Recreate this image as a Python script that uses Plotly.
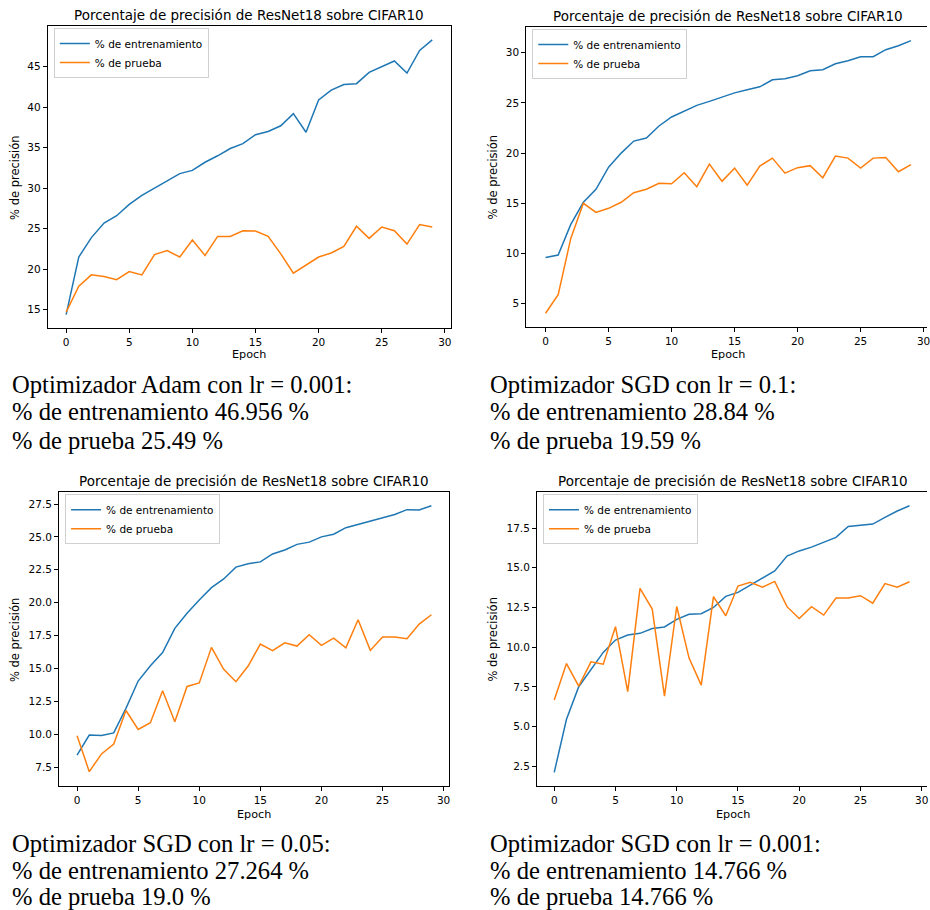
import plotly.graph_objects as go

# ---------------- data ----------------
epochs = list(range(30))

adam_train = [14.4, 21.5, 23.9, 25.7, 26.6, 28.0, 29.1, 30.0, 30.8, 31.8,
              32.2, 33.2, 34.0, 34.9, 35.5, 36.6, 37.0, 37.7, 39.2, 36.9,
              40.9, 42.1, 42.8, 42.9, 44.3, 45.0, 45.7, 44.2, 47.0, 48.3]
adam_test = [14.7, 17.9, 19.3, 19.1, 18.7, 19.7, 19.3, 21.8, 22.3, 21.5,
             23.6, 21.7, 24.05, 24.05, 24.75, 24.7, 24.05, 21.9, 19.5, 20.5,
             21.5, 22.0, 22.8, 25.3, 23.8, 25.2, 24.75, 23.1, 25.5, 25.2]

sgd01_train = [9.6, 9.85, 12.9, 15.1, 16.4, 18.6, 20.0, 21.2, 21.5, 22.7,
               23.6, 24.2, 24.75, 25.15, 25.55, 26.0, 26.3, 26.6, 27.3, 27.4,
               27.7, 28.2, 28.3, 28.9, 29.2, 29.6, 29.6, 30.3, 30.7, 31.2]
sgd01_test = [4.05, 5.9, 11.5, 15.0, 14.1, 14.5, 15.1, 16.05, 16.4, 17.0,
              16.95, 18.05, 16.65, 18.9, 17.2, 18.5, 16.8, 18.7, 19.5, 18.0,
              18.55, 18.75, 17.55, 19.7, 19.5, 18.5, 19.5, 19.55, 18.15, 18.85]

sgd005_train = [8.4, 9.93, 9.9, 10.1, 11.96, 14.04, 15.2, 16.2, 18.05, 19.2,
                20.2, 21.14, 21.8, 22.7, 22.96, 23.1, 23.7, 24.0, 24.43, 24.6,
                25.0, 25.2, 25.7, 25.95, 26.23, 26.5, 26.7, 27.07, 27.05, 27.37]
sgd005_test = [9.88, 7.15, 8.5, 9.25, 11.8, 10.36, 10.87, 13.3, 10.95, 13.63,
               13.9, 16.6, 14.93, 13.99, 15.18, 16.85, 16.35, 16.95, 16.7, 17.56,
               16.75, 17.3, 16.57, 18.7, 16.37, 17.39, 17.39, 17.26, 18.37, 19.08]

sgd0001_train = [2.12, 5.46, 7.51, 8.63, 9.67, 10.45, 10.76, 10.87, 11.18, 11.27,
                 11.75, 12.07, 12.11, 12.5, 13.2, 13.45, 13.9, 14.37, 14.8, 15.74,
                 16.06, 16.3, 16.58, 16.91, 17.6, 17.67, 17.75, 18.17, 18.57, 18.9]
sgd0001_test = [6.67, 8.97, 7.55, 9.08, 8.93, 11.29, 7.2, 13.7, 12.4, 6.92,
                12.56, 9.33, 7.61, 13.18, 11.98, 13.85, 14.08, 13.77, 14.14, 12.55,
                11.81, 12.55, 12.02, 13.09, 13.09, 13.24, 12.77, 14.0, 13.77, 14.12]

x_ticks = [0, 5, 10, 15, 20, 25, 30]
y_ticks_adam = [15, 20, 25, 30, 35, 40, 45]
y_ticks_sgd01 = [5, 10, 15, 20, 25, 30]
y_ticks_sgd005 = [7.5, 10.0, 12.5, 15.0, 17.5, 20.0, 22.5, 25.0, 27.5]
y_ticks_sgd0001 = [2.5, 5.0, 7.5, 10.0, 12.5, 15.0, 17.5]

chart_title = "Porcentaje de precisión de ResNet18 sobre CIFAR10"
train_name = "% de entrenamiento"
test_name = "% de prueba"
x_title = "Epoch"
y_title = "% de precisión"

captions = [
    ["Optimizador Adam con lr = 0.001:", "% de entrenamiento 46.956 %", "% de prueba 25.49 %"],
    ["Optimizador SGD con lr = 0.1:", "% de entrenamiento 28.84 %", "% de prueba 19.59 %"],
    ["Optimizador SGD con lr = 0.05:", "% de entrenamiento 27.264 %", "% de prueba 19.0 %"],
    ["Optimizador SGD con lr = 0.001:", "% de entrenamiento 14.766 %", "% de prueba 14.766 %"],
]

# ---------------- layout helpers ----------------
W, H = 930, 910
def px(x):
    return x / W
def py(y):
    return 1 - y / H

BLUE = "#1f77b4"
ORANGE = "#ff7f0e"
TICKFONT = dict(family="DejaVu Sans", size=10.5, color="#000000")

panels = [
    dict(train=adam_train, test=adam_test, yt=y_ticks_adam, ytext=[str(v) for v in y_ticks_adam],
         left=48, right=452, top=26, bottom=328, xr=[-1.45, 30.45], yr=[12.74, 50.02],
         mirror_y=True, ytitle_x=15, cap_x=10, cap_y=[384, 412, 440], xtitle_y=355),
    dict(train=sgd01_train, test=sgd01_test, yt=y_ticks_sgd01, ytext=[str(v) for v in y_ticks_sgd01],
         left=528, right=930, top=27, bottom=327, xr=[-1.53, 30.27], yr=[2.68, 32.56],
         mirror_y=False, ytitle_x=495, cap_x=490, cap_y=[384, 412, 440], xtitle_y=355),
    dict(train=sgd005_train, test=sgd005_test, yt=y_ticks_sgd005, ytext=["%.1f" % v for v in y_ticks_sgd005],
         left=59.3, right=450.7, top=492.3, bottom=786, xr=[-1.47, 30.46], yr=[6.06, 28.39],
         mirror_y=True, ytitle_x=15, cap_x=10, cap_y=[843, 870, 896], xtitle_y=814),
    dict(train=sgd0001_train, test=sgd0001_test, yt=y_ticks_sgd0001, ytext=["%.1f" % v for v in y_ticks_sgd0001],
         left=538.7, right=930, top=492.3, bottom=786, xr=[-1.41, 30.43], yr=[1.26, 19.75],
         mirror_y=False, ytitle_x=495, cap_x=490, cap_y=[843, 870, 896], xtitle_y=814),
]

fig = go.Figure()
annotations = []
layout = dict(
    width=W, height=H, autosize=False,
    margin=dict(l=0, r=0, t=0, b=0),
    paper_bgcolor="white", plot_bgcolor="white",
    showlegend=True,
)

for i, p in enumerate(panels):
    n = i + 1
    xa = "x" if n == 1 else f"x{n}"
    ya = "y" if n == 1 else f"y{n}"
    leg = "legend" if n == 1 else f"legend{n}"
    fig.add_trace(go.Scatter(x=epochs, y=p["train"], mode="lines", name=train_name,
                             line=dict(color=BLUE, width=1.5), xaxis=xa, yaxis=ya, legend=leg))
    fig.add_trace(go.Scatter(x=epochs, y=p["test"], mode="lines", name=test_name,
                             line=dict(color=ORANGE, width=1.5), xaxis=xa, yaxis=ya, legend=leg))
    xkey = "xaxis" if n == 1 else f"xaxis{n}"
    ykey = "yaxis" if n == 1 else f"yaxis{n}"
    layout[xkey] = dict(
        domain=[px(p["left"]), min(1.0, px(p["right"]))], range=p["xr"], anchor=ya,
        tickmode="array", tickvals=x_ticks, ticktext=[str(v) for v in x_ticks],
        ticks="outside", ticklen=4, tickwidth=1, tickcolor="#000000",
        showline=True, linecolor="#000000", linewidth=1, mirror=True,
        showgrid=False, zeroline=False, tickfont=TICKFONT, ticklabeloverflow="allow",
    )
    layout[ykey] = dict(
        domain=[py(p["bottom"]), py(p["top"])], range=p["yr"], anchor=xa,
        tickmode="array", tickvals=p["yt"], ticktext=p["ytext"],
        ticks="outside", ticklen=4, tickwidth=1, tickcolor="#000000",
        showline=True, linecolor="#000000", linewidth=1, mirror=p["mirror_y"],
        showgrid=False, zeroline=False, tickfont=TICKFONT,
    )
    layout[leg] = dict(
        x=px(p["left"] + 6), y=py(p["top"] + 2), xanchor="left", yanchor="top",
        xref="paper", yref="paper",
        bgcolor="rgba(255,255,255,0.8)", bordercolor="#d0d0d0", borderwidth=1,
        font=dict(family="DejaVu Sans", size=10.5, color="#000000"),
        itemwidth=30, tracegroupgap=0,
    )
    cx = (p["left"] + (p["right"] if p["mirror_y"] else p["right"] + 2)) / 2
    annotations.append(dict(text=chart_title, x=px(cx), y=py(p["top"] - 11), xref="paper", yref="paper",
                            xanchor="center", yanchor="middle", showarrow=False,
                            font=dict(family="DejaVu Sans", size=13.5, color="#000000")))
    annotations.append(dict(text=y_title, x=px(p["ytitle_x"]), y=py((p["top"] + p["bottom"]) / 2),
                            xref="paper", yref="paper", xanchor="center", yanchor="middle",
                            textangle=-90, showarrow=False,
                            font=dict(family="DejaVu Sans", size=11.5, color="#000000")))
    annotations.append(dict(text=x_title, x=px(cx), y=py(p["xtitle_y"]), xref="paper", yref="paper",
                            xanchor="center", yanchor="middle", showarrow=False,
                            font=dict(family="DejaVu Sans", size=11.2, color="#000000")))
    for line, yy in zip(captions[i], p["cap_y"]):
        annotations.append(dict(text=line, x=px(p["cap_x"]), y=py(yy), xref="paper", yref="paper",
                                xanchor="left", yanchor="middle", showarrow=False,
                                font=dict(family="Liberation Serif", size=24.6, color="#000000")))

layout["annotations"] = annotations
fig.update_layout(**layout)
fig.write_html("out.html", config={"displayModeBar": False},
               post_script="document.body.style.margin='0px';document.body.style.padding='0px';")
